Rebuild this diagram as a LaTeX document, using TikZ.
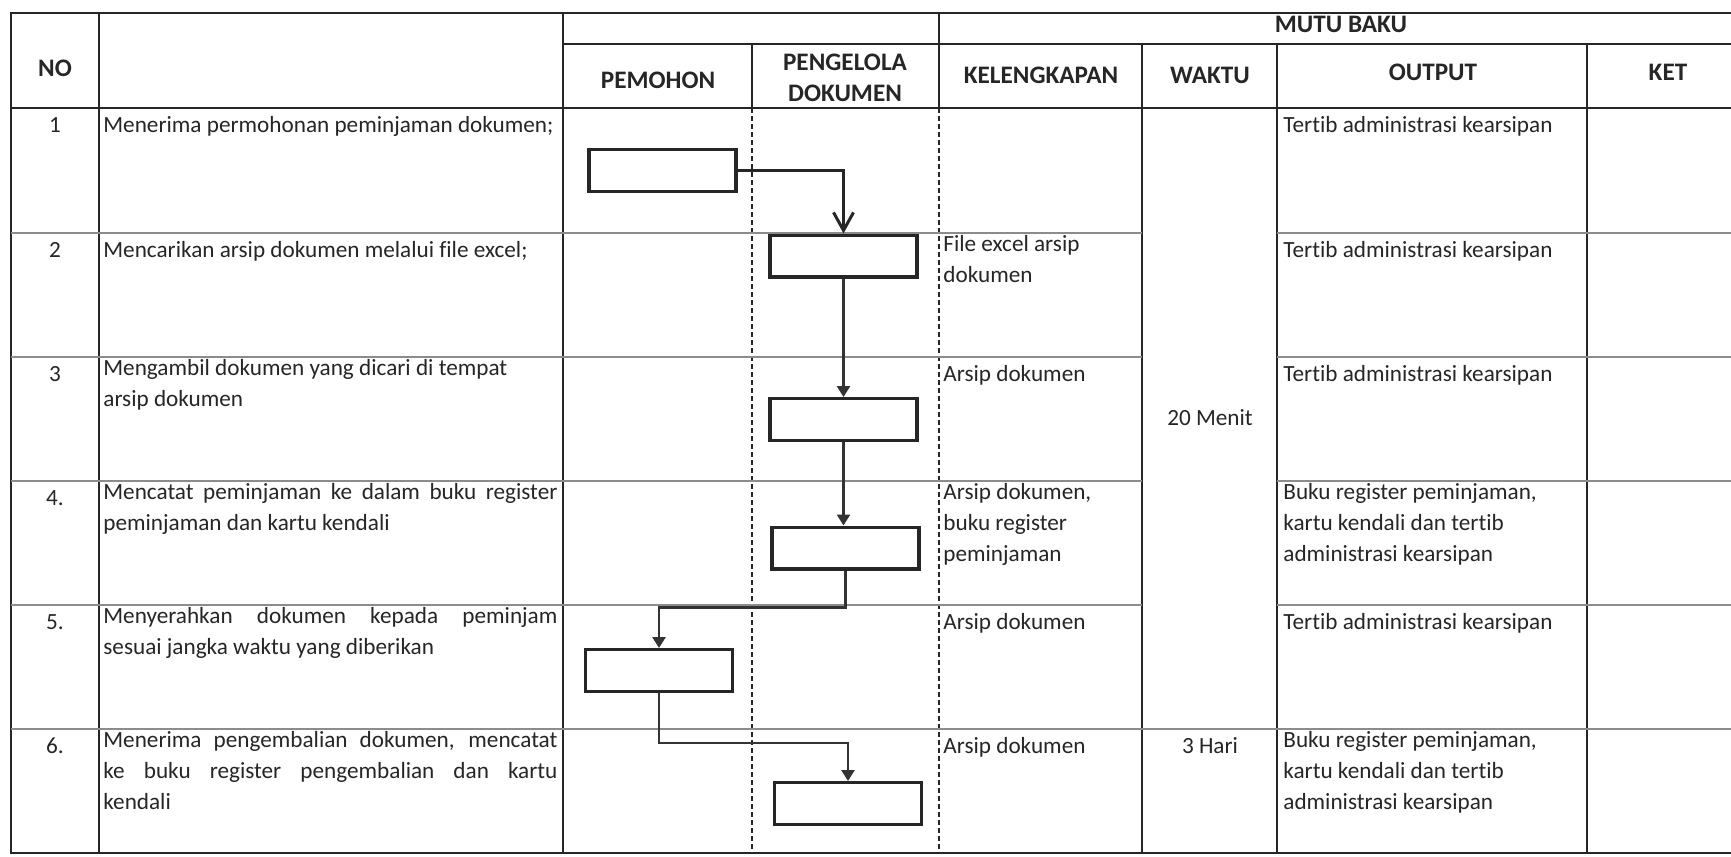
\documentclass[tikz,border=0pt]{standalone}
\usepackage{fontspec}
\setmainfont{Carlito}[Ligatures=NoCommon]
\usetikzlibrary{positioning, arrows.meta, calc}
\newcommand{\fullline}[1]{\makebox[227pt][s]{#1}}

\begin{document}
\begin{tikzpicture}[
    x=0.5pt, y=-0.5pt,
    every node/.style={inner sep=0pt, text=black!85,
                       font=\fontsize{11.6}{15.5}\selectfont},
    head/.style={font=\fontsize{12.6}{15.5}\selectfont\bfseries, align=center},
    cell/.style={anchor=north west, align=left, execute at begin node=\strut},
    num/.style={anchor=base},
    grid/.style={line width=1pt, black!85},
    rowline/.style={line width=0.7pt, black!45},
    lane/.style={line width=1pt, black!85, dash pattern=on 2.5pt off 1.5pt},
    proc/.style={draw=black!85, line width=1.7pt,
                 minimum width=73.5pt, minimum height=20.8pt},
    arr/.style={line width=1.3pt, black!80, -{Triangle[length=5.5pt, width=6.5pt]}}
]
\useasboundingbox[fill=white] (0,0) rectangle (1731,857);

% table
\draw[grid] (11,13) rectangle (1748,853);
\draw[grid] (99,13) -- (99,853);
\draw[grid] (563,13) -- (563,853);
\draw[grid] (563,44) -- (1748,44);
\draw[grid] (11,108) -- (1748,108);
\draw[grid] (752,44) -- (752,108);
\draw[grid] (939,13) -- (939,108);
\draw[grid] (1142,44) -- (1142,853);
\draw[grid] (1277,44) -- (1277,853);
\draw[grid] (1587,44) -- (1587,853);
\draw[lane] (752,108) -- (752,853);
\draw[lane] (939,108) -- (939,853);
\draw[rowline] (11,233) -- (1142,233) (1277,233) -- (1748,233);
\draw[rowline] (11,357) -- (1142,357) (1277,357) -- (1748,357);
\draw[rowline] (11,481) -- (1142,481) (1277,481) -- (1748,481);
\draw[rowline] (11,605) -- (1142,605) (1277,605) -- (1748,605);
\draw[rowline] (11,729) -- (1748,729);

% header
\node[head] (hno) at (55,68) {NO};
\node[head] (hmutu) at (1341,24) {MUTU BAKU};
\node[head] (hpem) at (658,80) {PEMOHON};
\node[head] (hpen) at (845,78) {PENGELOLA\\DOKUMEN};
\node[head] (hkel) at (1041,75) {KELENGKAPAN};
\node[head] (hwak) at (1210,75) {WAKTU};
\node[head] (hout) at (1433,72) {OUTPUT};
\node[head] (hket) at (1668,72) {KET};

% rows
\node[num] (no1) at (55,132) {1};
\node[num] (no2) at (55,257) {2};
\node[num] (no3) at (55,381) {3};
\node[num] (no4) at (55,505) {4.};
\node[num] (no5) at (55,629) {5.};
\node[num] (no6) at (55,753) {6.};

\node[cell] (desc1) at (103,110) {Menerima permohonan peminjaman dokumen;};
\node[cell] (desc2) at (103,235) {Mencarikan arsip dokumen melalui file excel;};
\node[cell] (desc3) at (103,359) {Mengambil dokumen yang dicari di tempat\\arsip dokumen};
\node[cell] (desc4) at (103,483) {\fullline{Mencatat peminjaman ke dalam buku register}\\peminjaman dan kartu kendali};
\node[cell] (desc5) at (103,607) {\fullline{Menyerahkan dokumen kepada peminjam}\\sesuai jangka waktu yang diberikan};
\node[cell] (desc6) at (103,731) {\fullline{Menerima pengembalian dokumen, mencatat}\\\fullline{ke buku register pengembalian dan kartu}\\kendali};

\node[cell] (kel2) at (943,235) {File excel arsip\\dokumen};
\node[cell] (kel3) at (943,359) {Arsip dokumen};
\node[cell] (kel4) at (943,483) {Arsip dokumen,\\buku register\\peminjaman};
\node[cell] (kel5) at (943,607) {Arsip dokumen};
\node[cell] (kel6) at (943,731) {Arsip dokumen};

\node (wak1) at (1210,418) {20 Menit};
\node[num] (wak6) at (1210,753) {3 Hari};

\node[cell] (out1) at (1283,110) {Tertib administrasi kearsipan};
\node[cell] (out2) at (1283,235) {Tertib administrasi kearsipan};
\node[cell] (out3) at (1283,359) {Tertib administrasi kearsipan};
\node[cell] (out4) at (1283,483) {Buku register peminjaman,\\kartu kendali dan tertib\\administrasi kearsipan};
\node[cell] (out5) at (1283,607) {Tertib administrasi kearsipan};
\node[cell] (out6) at (1283,731) {Buku register peminjaman,\\kartu kendali dan tertib\\administrasi kearsipan};

% flow
\node[proc] (b1) at (662.5,170.5) {};
\node[proc] (b2) at (843.5,256) {};
\node[proc] (b3) at (843.5,419.5) {};
\node[proc] (b4) at (845.5,548) {};
\node[proc] (b5) at (659,670.5) {};
\node[proc] (b6) at (848,803.5) {};

\draw[line width=1.5pt, black!85, -{Straight Barb[length=9pt, width=10pt]}] (b1.east) -| (b2.north);
\draw[arr] (b2.south) -- (b3.north);
\draw[arr] (b3.south) -- (b3.south |- b4.north);
\draw[arr] (b4.south) -- ++(0,37) -| (b5.north);
\draw[arr] (b5.south) -- ++(0,50) -| (b6.north);
\end{tikzpicture}
\end{document}
